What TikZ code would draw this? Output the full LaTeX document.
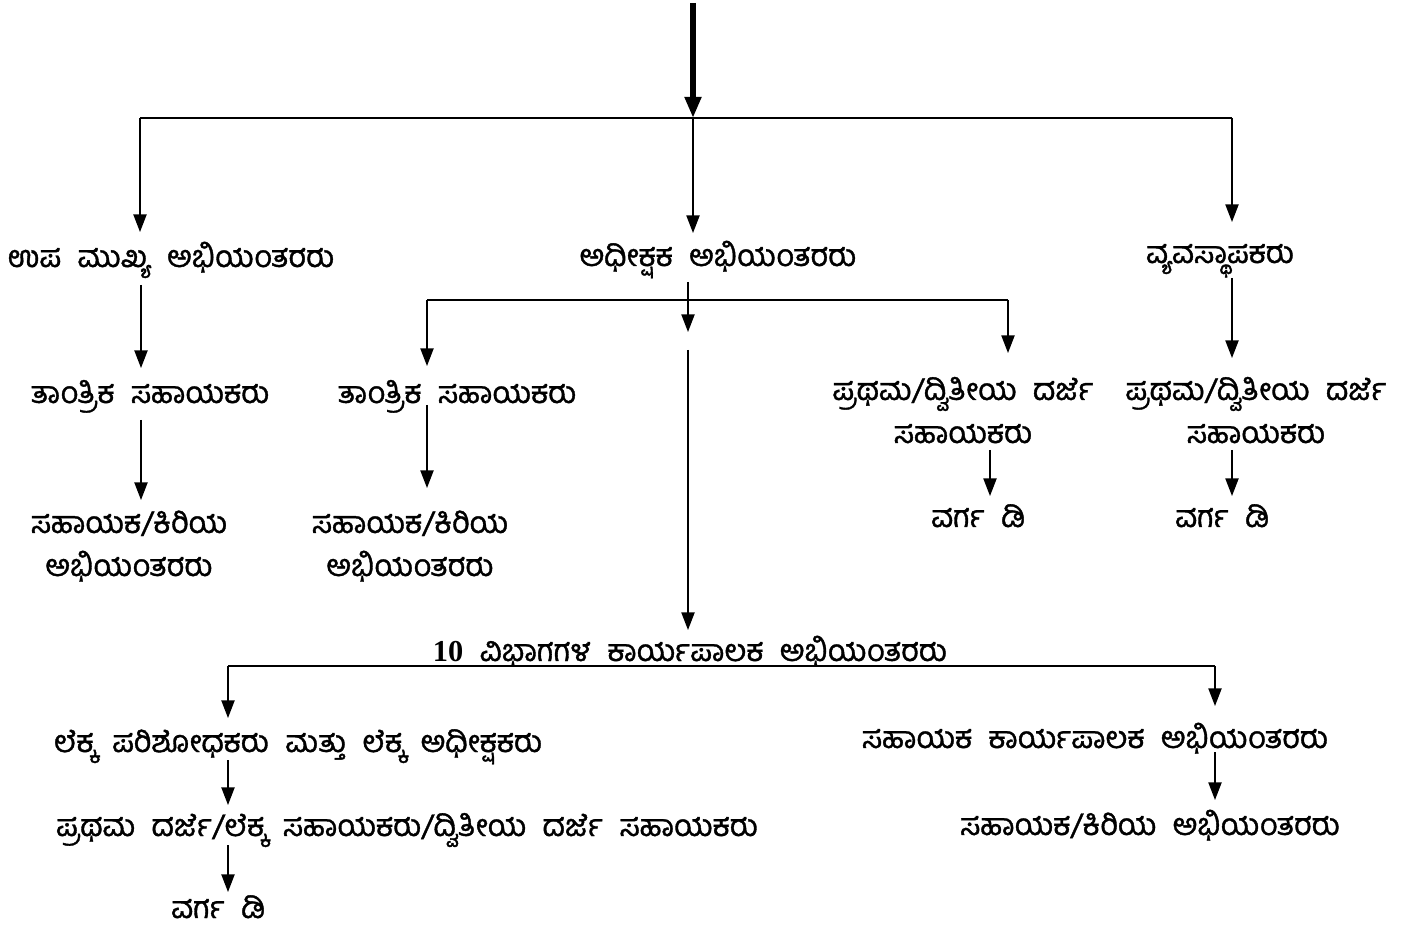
\documentclass[tikz,border=0pt]{standalone}
\usepackage{fontspec}
\newfontfamily\kn[Script=Kannada,FakeBold=1.2,WordSpace=2.2]{Hind Mysuru}
\newfontfamily\numf{Liberation Serif}
\usetikzlibrary{arrows.meta}
\begin{document}
\begin{tikzpicture}[x=0.02cm,y=-0.02cm,
  lbl/.style={font=\kn\fontsize{17.3}{24.5}\selectfont, inner sep=0pt, align=center, anchor=base},
  conn/.style={line width=0.8pt, draw=black},
  arr/.style={conn, -{Triangle[length=10pt,width=7.5pt]}},
  bigarr/.style={line width=3.2pt, -{Triangle[length=12pt,width=9pt]}}]
\useasboundingbox (0,0) rectangle (1414,932);
% nodes
\node[lbl] (upa) at (171,267) {ಉಪ ಮುಖ್ಯ ಅಭಿಯಂತರರು};
\node[lbl] (adh) at (718,266) {ಅಧೀಕ್ಷಕ ಅಭಿಯಂತರರು};
\node[lbl] (vya) at (1220,263) {ವ್ಯವಸ್ಥಾಪಕರು};
\node[lbl] (tan1) at (150,403) {ತಾಂತ್ರಿಕ ಸಹಾಯಕರು};
\node[lbl] (tan2) at (457,403) {ತಾಂತ್ರಿಕ ಸಹಾಯಕರು};
\node[lbl] (sk1) at (129,576) {ಸಹಾಯಕ/ಕಿರಿಯ\\ಅಭಿಯಂತರರು};
\node[lbl] (sk2) at (410,576) {ಸಹಾಯಕ/ಕಿರಿಯ\\ಅಭಿಯಂತರರು};
\node[lbl] (pd1) at (963,443) {ಪ್ರಥಮ/ದ್ವಿತೀಯ ದರ್ಜೆ\\ಸಹಾಯಕರು};
\node[lbl] (pd2) at (1256,443) {ಪ್ರಥಮ/ದ್ವಿತೀಯ ದರ್ಜೆ\\ಸಹಾಯಕರು};
\node[lbl] (vd1) at (978,527) {ವರ್ಗ ಡಿ};
\node[lbl] (vd2) at (1222,527) {ವರ್ಗ ಡಿ};
\node[lbl] (ten) at (690,661) {{\numf\bfseries 10} ವಿಭಾಗಗಳ ಕಾರ್ಯಪಾಲಕ ಅಭಿಯಂತರರು};
\node[lbl] (lek) at (298,752) {ಲೆಕ್ಕ ಪರಿಶೋಧಕರು ಮತ್ತು ಲೆಕ್ಕ ಅಧೀಕ್ಷಕರು};
\node[lbl] (pra) at (407,836) {ಪ್ರಥಮ ದರ್ಜೆ/ಲೆಕ್ಕ ಸಹಾಯಕರು/ದ್ವಿತೀಯ ದರ್ಜೆ ಸಹಾಯಕರು};
\node[lbl, text depth=0pt] (vd3) at (218,918) {ವರ್ಗ ಡಿ};
\node[lbl] (sak) at (1095,748) {ಸಹಾಯಕ ಕಾರ್ಯಪಾಲಕ ಅಭಿಯಂತರರು};
\node[lbl] (skr) at (1150,835) {ಸಹಾಯಕ/ಕಿರಿಯ ಅಭಿಯಂತರರು};
% coordinates
\coordinate (top) at (693,3);
\coordinate (b1) at (140,118);
\coordinate (b2) at (693,118);
\coordinate (b3) at (1232,118);
\coordinate (c1) at (427,300);
\coordinate (c2) at (688,300);
\coordinate (c3) at (1008,300);
\coordinate (m1) at (688,332);
\coordinate (m2) at (688,350);
\coordinate (d1) at (228,666);
\coordinate (d2) at (1215,666);
% connectors
\draw[bigarr] (top) -- (b2);
\draw[conn] (b1) -- (b3);
\draw[arr] (b1) -- (b1 |- 0,232);
\draw[arr] (b2) -- (b2 |- 0,233);
\draw[arr] (b3) -- (b3 |- 0,222);
\draw[arr] (c2 |- 0,282) -- (m1);
\draw[conn] (c1) -- (c3);
\draw[arr] (c1) -- (c1 |- 0,366);
\draw[arr] (c3) -- (c3 |- 0,353);
\draw[arr] (m2) -- (m2 |- 0,630);
\draw[arr] (141,285) -- (141,368);
\draw[arr] (141,420) -- (141,500);
\draw[arr] (427,405) -- (427,488);
\draw[arr] (1232,278) -- (1232,358);
\draw[arr] (990,450) -- (990,496);
\draw[arr] (1232,450) -- (1232,496);
\draw[conn] (d1) -- (d2);
\draw[arr] (d1) -- (d1 |- 0,718);
\draw[arr] (d2) -- (d2 |- 0,706);
\draw[arr] (228,760) -- (228,805);
\draw[arr] (228,845) -- (228,892);
\draw[arr] (1215,752) -- (1215,800);
\end{tikzpicture}
\end{document}
